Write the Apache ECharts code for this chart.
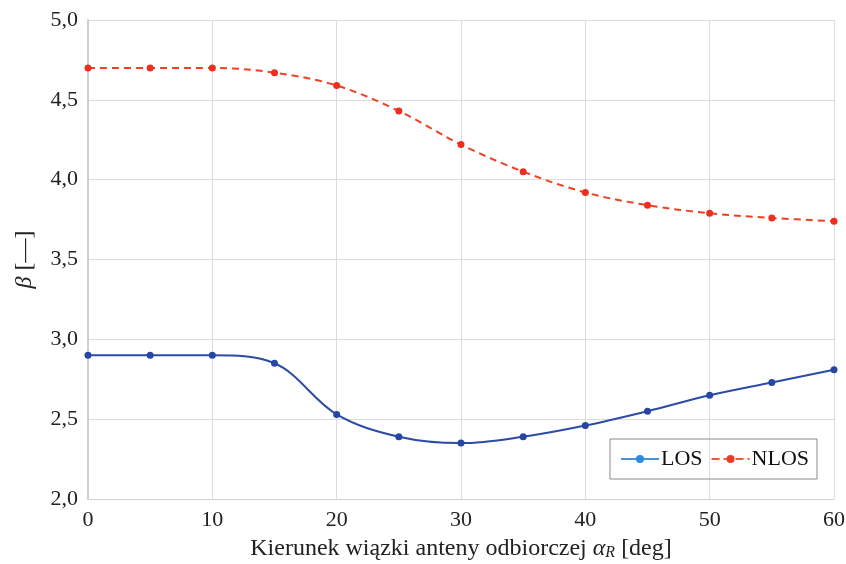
<!DOCTYPE html>
<html><head><meta charset="utf-8">
<script src="https://cdn.jsdelivr.net/npm/echarts@6/dist/echarts.min.js"></script>
<style>html,body{margin:0;padding:0;background:#fff}#c{width:846px;height:564px}</style>
</head><body><div id="c"></div>
<script>
const angles = [0,5,10,15,20,25,30,35,40,45,50,55,60];
const losValues = [2.90,2.90,2.90,2.85,2.53,2.39,2.35,2.39,2.46,2.55,2.65,2.73,2.81];
const nlosValues = [4.70,4.70,4.70,4.67,4.59,4.43,4.22,4.05,3.92,3.84,3.79,3.76,3.74];
const font = 'Liberation Serif';
const chart = echarts.init(document.getElementById('c'));
chart.setOption({
  animation:false,
  textStyle:{fontFamily:font},
  grid:{left:88,right:12,top:20,bottom:65,containLabel:false,outerBoundsMode:'none'},
  xAxis:{type:'value',min:0,max:60,interval:10,
    axisLine:{show:true,lineStyle:{color:'#d0d0d0',width:1}},
    axisTick:{show:false},
    splitLine:{lineStyle:{color:'#dcdcdc',width:1}},
    axisLabel:{color:'#222',fontSize:22,fontFamily:font,margin:10},
    name:'{n|Kierunek wiązki anteny odbiorczej }{i|α}{s|R}{n| [deg]}',
    nameLocation:'middle',nameGap:37,
    nameTextStyle:{rich:{
      n:{fontSize:24,color:'#222',fontFamily:font},
      i:{fontSize:24,color:'#222',fontFamily:font,fontStyle:'italic'},
      s:{fontSize:16,color:'#222',fontFamily:font,fontStyle:'italic',padding:[9,0,0,0]}
    }}
  },
  yAxis:{type:'value',min:2,max:5,interval:0.5,
    axisLine:{show:true,lineStyle:{color:'#cfcfcf',width:2}},
    axisTick:{show:false},
    splitLine:{lineStyle:{color:'#dcdcdc',width:1}},
    axisLabel:{color:'#222',fontSize:22,fontFamily:font,margin:10,
      formatter:v=>v.toFixed(1).replace('.',',')},
    name:'{i|β}{n| [—]}',nameLocation:'middle',nameGap:51,
    nameTextStyle:{rich:{
      n:{fontSize:24,color:'#222',fontFamily:font},
      i:{fontSize:24,color:'#222',fontFamily:font,fontStyle:'italic'}
    }}
  },
  legend:{right:29,top:439,orient:'horizontal',
    borderColor:'#8a8a8a',borderWidth:1,padding:[9,8,9,10],
    itemWidth:38,itemHeight:10,itemGap:8,
    textStyle:{fontSize:22,color:'#111',fontFamily:font,padding:[0,0,0,-3]},
    data:[
      {name:'LOS',itemStyle:{color:'#2f8ae0'},lineStyle:{color:'#4a90d9'}},
      {name:'NLOS',itemStyle:{color:'#f03a24'},lineStyle:{color:'#f05a3a',type:'dashed'}}
    ]},
  series:[
    {name:'LOS',type:'line',smooth:0.35,data:angles.map((a,i)=>[a,losValues[i]]),
      symbol:'circle',symbolSize:7,
      lineStyle:{color:'#2a4ca6',width:2},itemStyle:{color:'#2546a2'}},
    {name:'NLOS',type:'line',smooth:0.35,data:angles.map((a,i)=>[a,nlosValues[i]]),
      symbol:'circle',symbolSize:7,
      lineStyle:{color:'#f0401f',width:2,type:[7,5]},itemStyle:{color:'#ee2e1f'}}
  ]
});
</script></body></html>
